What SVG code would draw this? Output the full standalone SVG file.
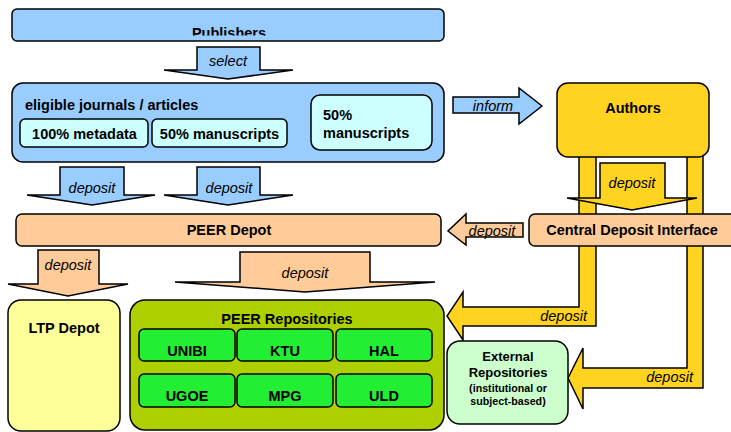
<svg xmlns="http://www.w3.org/2000/svg" width="731" height="432" viewBox="0 0 731 432">
<defs>
<clipPath id="pubclip"><rect x="12" y="9" width="432" height="26.5"/></clipPath>
</defs>
<style>
.b{stroke:#000;stroke-width:1.5}
.t{font-family:"Liberation Sans",Arial,sans-serif;font-weight:bold;font-size:14.5px;fill:#000}
.i{font-family:"Liberation Sans",Arial,sans-serif;font-style:italic;font-size:14.5px;fill:#000}
.c{text-anchor:middle}
.blue{fill:#99ccff}
.cyan{fill:#ccffff}
.peach{fill:#ffcc99}
.gold{fill:#ffd320}
.grn{fill:#22ee33}
</style>
<rect width="731" height="432" fill="#fff"/>
<g id="connectors">
  <polygon class="b blue" points="197,47 260,47 260,70 293,70 228,79 164,70 197,70"/>
  <text class="i c" x="228" y="66">select</text>
  <polygon class="b blue" points="60,167 124,167 124,195 155,195 92,205 27,195 60,195"/>
  <text class="i c" x="92" y="193">deposit</text>
  <polygon class="b blue" points="197,167 260,167 260,195 293,195 228,205 164,195 197,195"/>
  <text class="i c" x="229" y="193">deposit</text>
  <polygon class="b blue" points="453,97 519,97 519,88 542,106 519,124 519,113 453,113"/>
  <text class="i c" x="493" y="111">inform</text>
  <polygon class="b peach" points="38,250 99,250 99,284 128,284 68,296 8,284 38,284"/>
  <text class="i c" x="68" y="270">deposit</text>
  <polygon class="b peach" points="240,252 370,252 370,282 435,282 305,292 175,282 240,282"/>
  <text class="i c" x="305" y="278">deposit</text>
  <polygon class="b peach" points="523,223 466,223 466,214 448,231 466,245 466,237 523,237"/>
  <text class="i c" x="492" y="236">deposit</text>
  <polygon class="b gold" points="596,156 596,326 463,326 463,340 447,316 463,292 463,307 579,307 579,156"/>
  <text class="i" x="587" y="321" text-anchor="end">deposit</text>
  <polygon class="b gold" points="703,156 703,388 583,388 583,409 568,378 583,348 583,368 687,368 687,156"/>
  <text class="i" x="693" y="382" text-anchor="end">deposit</text>
</g>
<g id="publishers">
  <rect class="b blue" x="12" y="9" width="432" height="32" rx="5"/>
  <text class="t c" x="229" y="38" clip-path="url(#pubclip)">Publishers</text>
</g>
<g id="eligible">
  <rect class="b blue" x="12" y="83" width="432" height="79" rx="11"/>
  <text class="t" x="25" y="110">eligible journals / articles</text>
  <rect class="b cyan" x="20" y="119" width="128" height="28" rx="5"/>
  <text class="t c" x="84.5" y="139">100% metadata</text>
  <rect class="b cyan" x="152" y="119" width="135" height="28" rx="5"/>
  <text class="t c" x="219.5" y="139">50% manuscripts</text>
  <rect class="b cyan" x="311" y="95" width="121" height="55" rx="9"/>
  <text class="t" x="323" y="120">50%</text>
  <text class="t" x="323" y="138">manuscripts</text>
</g>
<g id="authors">
  <rect class="b gold" x="557" y="83" width="152" height="74" rx="11"/>
  <text class="t c" x="633" y="113">Authors</text>
</g>
<g id="authors-deposit">
  <polygon class="b gold" points="600,163 665,163 665,198 697,198 632,210 567,198 600,198"/>
  <text class="i c" x="632" y="188">deposit</text>
</g>
<g id="peer-depot">
  <rect class="b peach" x="16" y="214" width="425" height="32" rx="6"/>
  <text class="t c" x="229" y="235">PEER Depot</text>
</g>
<g id="cdi">
  <rect class="b peach" x="529" y="214" width="212" height="32" rx="6"/>
  <text class="t c" x="632" y="235">Central Deposit Interface</text>
</g>
<g id="ltp">
  <rect class="b" fill="#ffff99" x="8" y="300" width="112" height="131" rx="13"/>
  <text class="t c" x="64" y="333">LTP Depot</text>
</g>
<g id="peer-repositories">
  <rect class="b" fill="#aed000" x="130" y="300" width="314" height="130" rx="15"/>
  <text class="t c" x="287" y="324">PEER Repositories</text>
  <g id="unibi"><rect class="b grn" x="139" y="329" width="96" height="32" rx="5"/><text class="t c" x="187" y="356">UNIBI</text></g>
  <g id="ktu"><rect class="b grn" x="237" y="329" width="96" height="32" rx="5"/><text class="t c" x="285" y="356">KTU</text></g>
  <g id="hal"><rect class="b grn" x="336" y="329" width="96" height="32" rx="5"/><text class="t c" x="384" y="356">HAL</text></g>
  <g id="ugoe"><rect class="b grn" x="139" y="374" width="96" height="33" rx="5"/><text class="t c" x="187" y="401">UGOE</text></g>
  <g id="mpg"><rect class="b grn" x="237" y="374" width="96" height="33" rx="5"/><text class="t c" x="285" y="401">MPG</text></g>
  <g id="uld"><rect class="b grn" x="336" y="374" width="96" height="33" rx="5"/><text class="t c" x="384" y="401">ULD</text></g>
</g>
<g id="external">
  <rect class="b" fill="#ccffcc" x="447" y="341" width="121" height="83" rx="13"/>
  <text class="t c" x="508" y="361" style="font-size:13px">External</text>
  <text class="t c" x="508" y="377" style="font-size:13px">Repositories</text>
  <text class="t c" x="508" y="392" style="font-size:10.7px">(institutional or</text>
  <text class="t c" x="508" y="405" style="font-size:10.7px">subject-based)</text>
</g>
</svg>
